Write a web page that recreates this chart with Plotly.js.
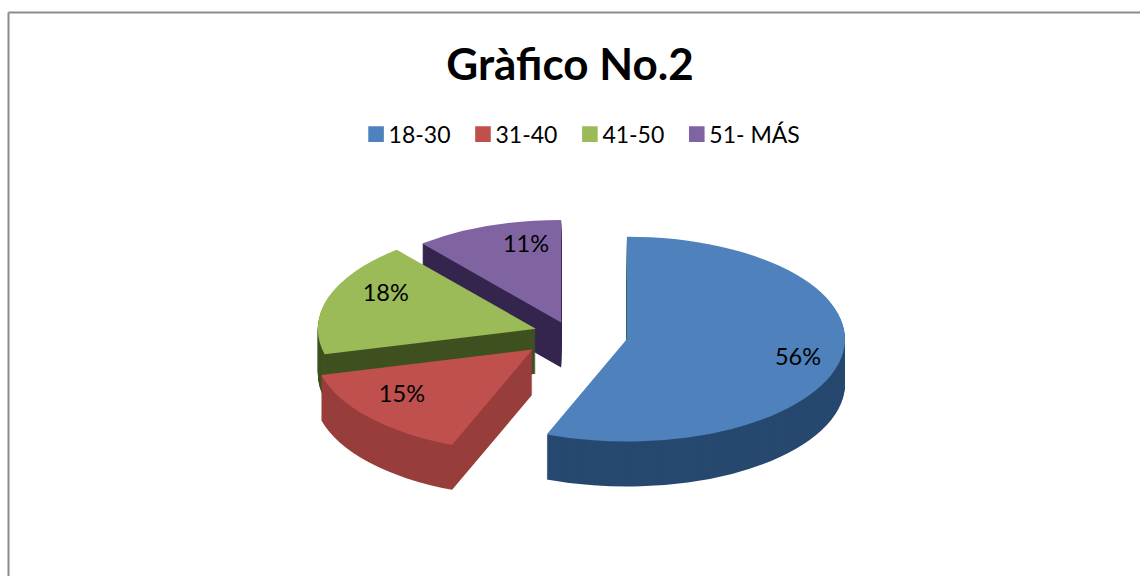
<!DOCTYPE html>
<html><head><meta charset="utf-8">
<script src="https://cdn.plot.ly/plotly-3.0.1.min.js"></script>
<style>html,body{margin:0;padding:0;background:#fff}#c{width:1140px;height:576px}</style>
</head><body><div id="c"></div>
<script>
const categories = ['18-30','31-40','41-50','51- MÁS'];
const shares = [56,15,18,11];
const pulls = [0.266,0.23,0.165,0.12];
const topColors = ['#4F81BD','#C0504D','#9BBB59','#8064A2'];
const sideColors = ['#27496F','#983E3C','#3F5120','#35264F'];
const labelNudgeX = [64,-18,-15,20];
const labelNudgeY = [12,2,-11,-3];
const FONT = 'Lato, "Open Sans", sans-serif';
const layers = 46, step = 1, squash = 0.47, centerY = 334;

const domain = {x:[(570-276)/1140,(570+276)/1140], y:[0.02,0.98]};
const traces = [];
for (let i=0;i<layers;i++){
  const top = i===layers-1;
  traces.push({
    type:'pie', values:shares, labels:categories, sort:false, direction:'clockwise', rotation:0,
    pull:pulls, domain:domain, hoverinfo:'skip', showlegend:top,
    marker:{colors: top?topColors:sideColors, line:{width:0}},
    textinfo: top?'percent':'none', texttemplate: top?'%{value}%':undefined, textposition: top?'inside':'none',
    insidetextorientation:'horizontal', insidetextfont:{family:FONT,size:23.5,color:'#000'}
  });
}
const layout = {
  width:1140, height:576, margin:{l:0,r:0,t:0,b:0}, paper_bgcolor:'#fff',
  title:{text:'<b>Gràfico No.2</b>', font:{family:FONT,size:44,color:'#000'}, x:0.5, xanchor:'center', xref:'paper', y:0.887, yanchor:'middle'},
  legend:{orientation:'h', x:0.5062, xanchor:'center', y:0.767, yanchor:'middle', font:{family:FONT,size:23,color:'#000'}, traceorder:'normal', itemclick:false, itemdoubleclick:false},
  shapes:[
    {type:'line',xref:'paper',yref:'paper',x0:8.5/1140,x1:8.5/1140,y0:0,y1:1-12.5/576,line:{color:'#8c8c8c',width:2}},
    {type:'line',xref:'paper',yref:'paper',x0:8.5/1140,x1:1,y0:1-12.5/576,y1:1-12.5/576,line:{color:'#8c8c8c',width:2}}
  ]
};
Plotly.newPlot('c',traces,layout,{displayModeBar:false,staticPlot:true}).then(()=>{
  document.querySelectorAll('#c .pielayer .trace').forEach((g,i)=>{
    const off = (layers-1-i)*step;
    g.setAttribute('transform',`translate(0,${centerY+off}) scale(1,${squash}) translate(0,-288)`);
  });
  document.querySelectorAll('#c .pielayer .slicetext text').forEach((t,i)=>{
    const tr = t.getAttribute('transform')||'';
    t.setAttribute('transform',`translate(${labelNudgeX[i]},${labelNudgeY[i]/squash}) ${tr} scale(1,${1/squash})`);
  });
  document.querySelectorAll('#c .legend .legendpoints path').forEach(p=>{
    const tr = p.getAttribute('transform')||'';
    p.setAttribute('transform',`${tr} translate(7.5,0) scale(1.3)`);
  });
});
</script></body></html>
